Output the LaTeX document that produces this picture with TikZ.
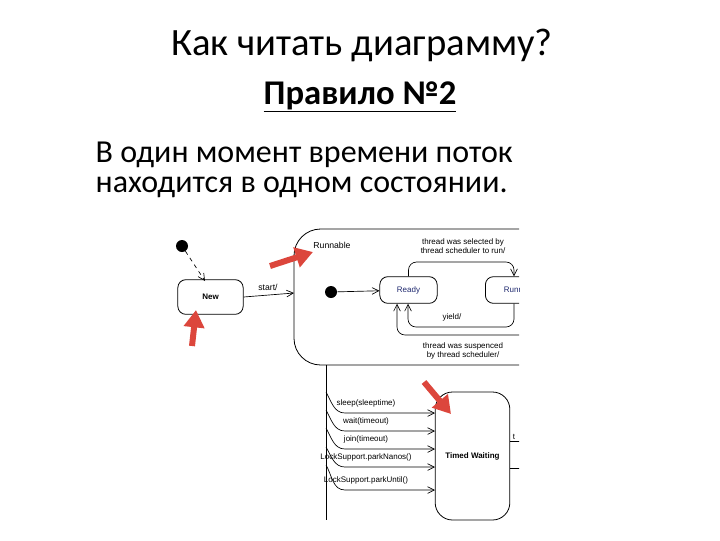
\documentclass[tikz,border=0pt]{standalone}
\usepackage{fontspec}
\setmainfont{Carlito}
\newfontfamily\diag{Liberation Sans}
\usetikzlibrary{arrows.meta}
\begin{document}
\begin{tikzpicture}[x=0.75pt,y=-0.75pt,
  st/.style={draw,rounded corners=6pt,line width=0.6pt},
  lab/.style={font=\diag\fontsize{6}{7}\selectfont},
  tr/.style={-{Straight Barb[length=5pt,width=5pt]},line width=0.5pt},
  red/.style={line width=4.5pt,draw={rgb,255:red,220;green,70;blue,60},-{Triangle[length=13pt,width=15pt]}}]
\useasboundingbox (0,0) rectangle (720,540);
\node[font=\fontsize{29}{32}\selectfont] (t1) at (362,45) {Как читать диаграмму?};
\node[font=\fontsize{26}{30}\selectfont\bfseries] (t2) at (360,97) {\underline{Правило №2}};
\node[font=\fontsize{24}{28}\selectfont,anchor=west,align=left] (b1) at (91,155) {В один момент времени поток};
\node[font=\fontsize{24}{28}\selectfont,anchor=west,align=left] (b2) at (91,187) {находится в одном состоянии.};
\node[circle,fill,inner sep=0,minimum size=9pt] (i1) at (182,246) {};
\node[st,minimum width=49pt,minimum height=26pt,lab,font=\diag\bfseries\fontsize{6}{7}\selectfont] (new) at (210.5,297) {New};
\coordinate (newt) at (205,281);
\draw[tr,dashed] (i1) -- (newt);
\begin{scope}
\clip (0,220) rectangle (519,530);
\draw[line width=0.6pt,rounded corners=20pt] (294,229) rectangle (560,365);
\node[lab,font=\diag\fontsize{6.5}{7}\selectfont] (run) at (332,245) {Runnable};
\coordinate (rl) at (294,293);
\draw[tr] (new.east) -- (rl);
\node[lab,font=\diag\fontsize{6.5}{7}\selectfont] (sl) at (268,287) {start/};
\node[circle,fill,inner sep=0,minimum size=9pt] (i2) at (331,292) {};
\node[st,minimum width=43pt,minimum height=20pt,lab,text={rgb,255:red,30;green,40;blue,110}] (ready) at (408.5,290) {Ready};
\draw[tr] (i2) -- (ready);
\node[st,minimum width=50pt,minimum height=20pt,lab,text={rgb,255:red,30;green,40;blue,110},anchor=west] (runn) at (485,290) {Running};
\draw[tr,rounded corners=6pt] (ready.north) |- (514,262) -- (runn.north -| 514,0);
\draw[tr,rounded corners=6pt] (runn.south -| 514,0) |- (408,327) -- (ready.south -| 408,0);
\draw[tr,rounded corners=6pt] (525,335) -- (397,335) -- (ready.south -| 397,0);
\node[lab,align=center] (l1) at (463,246) {thread was selected by\\thread scheduler to run/};
\node[lab] (l2) at (452,317) {yield/};
\node[lab,align=center] (l3) at (463,351) {thread was suspenced\\by thread scheduler/};
\coordinate (v1) at (326,365);
\coordinate (v2) at (326,520);
\draw[line width=0.6pt] (v1) -- (v2);
\node[draw,rounded corners=13pt,line width=0.6pt,minimum width=56pt,minimum height=96pt,lab,font=\diag\bfseries\fontsize{6}{7}\selectfont] (tw) at (472.5,456) {Timed Waiting};
\foreach \ys/\ye/\t in {392/413/sleep(sleeptime)/,410/431/wait(timeout)/,428/449/join(timeout)/,447/467/LockSupport.parkNanos()/,465/490/LockSupport.parkUntil()/}{
  \draw[tr] (326,\ys) to[out=-60,in=180] (345,\ye) -- (435,\ye);
  \node[lab] at (366,\ye-10) {\t};
}
\draw[line width=0.5pt] (510,441) -- (525,441);
\draw[line width=0.5pt] (510,468) -- (525,468);
\node[lab] (tl) at (514,437) {t};
\end{scope}
\coordinate (a1) at (270,266); \coordinate (a1e) at (313,252);
\coordinate (a2) at (192,346); \coordinate (a2e) at (196,310);
\coordinate (a3) at (424,382); \coordinate (a3e) at (451,414);
\draw[red] (a1) -- (a1e);
\draw[red] (a2) -- (a2e);
\draw[red] (a3) -- (a3e);
\end{tikzpicture}
\end{document}
